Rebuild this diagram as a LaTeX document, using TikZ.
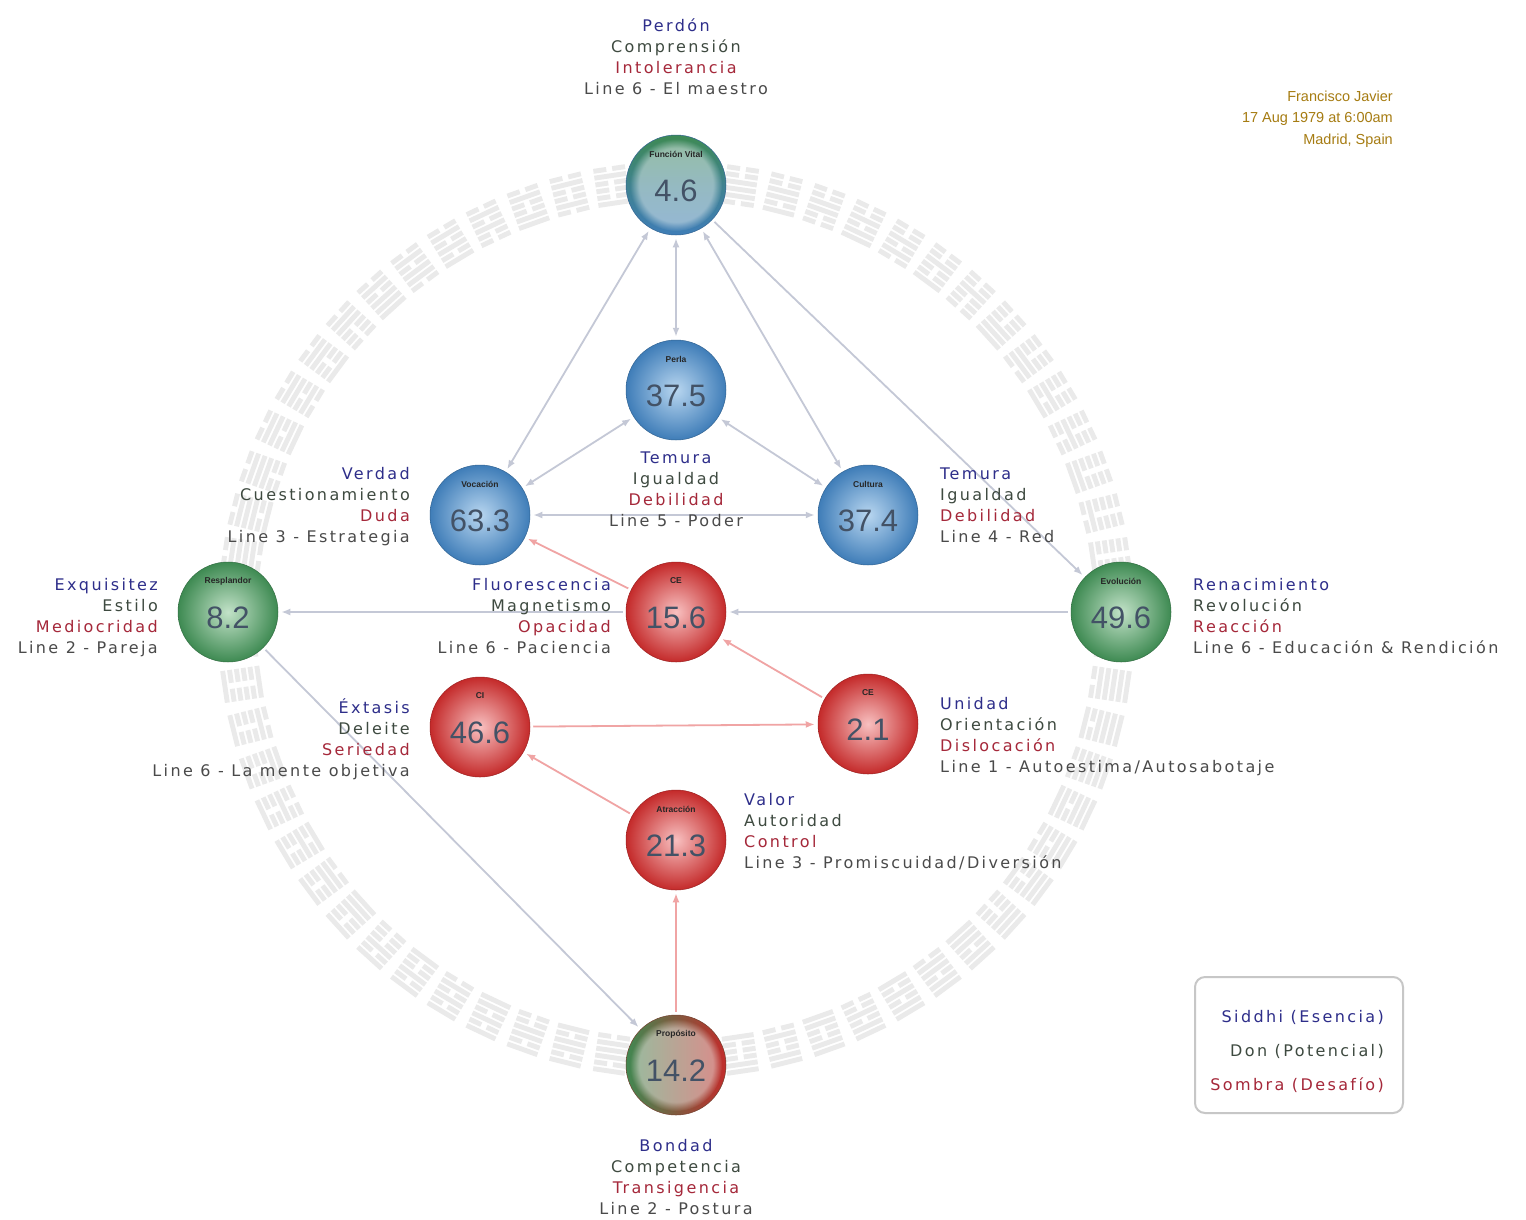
\documentclass[tikz,border=0pt]{standalone}
\usepackage{fontspec}
\setmainfont{DejaVu Sans}[LetterSpace=15]
\newfontfamily\numfont{Liberation Sans}
\newfontfamily\smallfont{Liberation Sans}
\usetikzlibrary{arrows.meta,fadings}
\definecolor{sidc}{HTML}{2E2E8A}
\definecolor{donc}{HTML}{3E4A40}
\definecolor{somc}{HTML}{A5283A}
\definecolor{linc}{HTML}{4A4A4A}
\definecolor{gedge}{HTML}{C4C8D6}
\definecolor{pedge}{HTML}{F0A4A4}
\definecolor{blueL}{HTML}{B8D6F0}
\definecolor{blueD}{HTML}{3F7DB8}
\definecolor{greenL}{HTML}{C2E2C8}
\definecolor{greenD}{HTML}{3E8A52}
\definecolor{redL}{HTML}{F8C0C0}
\definecolor{redD}{HTML}{C42A2A}
\definecolor{hexc}{HTML}{EAEAEA}
\definecolor{authc}{HTML}{A67C12}
\definecolor{numc}{HTML}{435266}
\tikzset{
  ball/.style={circle, minimum size=100pt, inner sep=0pt},
  blueball/.style={ball, inner color=blueL, outer color=blueD, draw=blueD!80!black, line width=0.5pt},
  greenball/.style={ball, inner color=greenL, outer color=greenD, draw=greenD!80!black, line width=0.5pt},
  redball/.style={ball, inner color=redL, outer color=redD, draw=redD!80!black, line width=0.5pt},
  fvball/.style={ball, draw=blueD!80!black, line width=0.5pt, path picture={
      \shade[top color=greenD, bottom color=blueD, middle color=blueD!60!greenD]
        ([shift={(-52,-52)}]path picture bounding box.center) rectangle ([shift={(52,52)}]path picture bounding box.center);
      \fill[white, fill opacity=0.45, path fading=circle with fuzzy edge 20 percent]
        (path picture bounding box.center) circle (46);}},
  prball/.style={ball, draw=redD!60!greenD!80!black, line width=0.5pt, path picture={
      \shade[left color=greenD, right color=redD]
        ([shift={(-52,-52)}]path picture bounding box.center) rectangle ([shift={(52,52)}]path picture bounding box.center);
      \fill[white, fill opacity=0.45, path fading=circle with fuzzy edge 20 percent]
        (path picture bounding box.center) circle (46);}},
  ttl/.style={inner sep=0pt, font=\smallfont\bfseries\fontsize{8.5}{9}\selectfont, text=black!85},
  num/.style={inner sep=0pt, font=\numfont\fontsize{31}{31}\selectfont, text=numc},
  lab/.style={inner sep=0pt, font=\fontsize{16}{18}\selectfont},
  gedge/.style={draw=gedge, line width=1.8pt, shorten >=3pt, shorten <=3pt},
  pedge/.style={draw=pedge, line width=1.8pt, shorten >=3pt, shorten <=3pt},
  tip/.style={-{Latex[length=9pt,width=7pt]}},
  tips/.style={{Latex[length=9pt,width=7pt]}-{Latex[length=9pt,width=7pt]}},
  auth/.style={inner sep=0pt, anchor=base east, font=\smallfont\fontsize{14.5}{16}\selectfont, text=authc},
  leg/.style={inner sep=0pt, anchor=base east, font=\fontsize{16}{18}\selectfont}
}
\newcommand\gklab[8]{%
  \node[lab, text=sidc, anchor=#2] (#1a) at (#3,#4) {#5};
  \node[lab, text=donc, anchor=#2] (#1b) at (#3,#4+21.3) {#6};
  \node[lab, text=somc, anchor=#2] (#1c) at (#3,#4+42.6) {#7};
  \node[lab, text=linc, anchor=#2] (#1d) at (#3,#4+63.9) {#8};}
\newcommand\gkball[6]{%
  \node[#4] (#1) at (#2,#3) {};
  \node[ttl] (#1t) at (#2,#3-31) {#5};
  \node[num] (#1n) at (#2,#3+6) {#6};}
\begin{document}
\begin{tikzpicture}[x=1pt,y=-1pt]
\useasboundingbox (0,0) rectangle (1526,1219);
\fill[white] (0,0) rectangle (1526,1219);
% hexagram ring
\foreach \i in {0,...,63}{
  \pgfmathsetmacro\ang{\i*5.625+2.8}
  \begin{scope}[shift={(676,620)}, rotate=\ang]
    \foreach \j in {0,...,5}{
      \pgfmathtruncatemacro\hb{mod(floor(\i/pow(2,\j)),2)}
      \pgfmathsetmacro\hr{419+\j*6.9}
      \ifnum\hb=1
        \fill[hexc] (\hr,-16) rectangle (\hr+4.9,16);
      \else
        \fill[hexc] (\hr,-16) rectangle (\hr+4.9,-3);
        \fill[hexc] (\hr,3) rectangle (\hr+4.9,16);
      \fi
    }
  \end{scope}
}
% balls
\gkball{fv}{676}{185}{fvball}{Función Vital}{4.6}
\gkball{pe}{676}{390}{blueball}{Perla}{37.5}
\gkball{vo}{480}{515}{blueball}{Vocación}{63.3}
\gkball{cu}{868}{515}{blueball}{Cultura}{37.4}
\gkball{ev}{1121}{612}{greenball}{Evolución}{49.6}
\gkball{re}{228}{612}{greenball}{Resplandor}{8.2}
\gkball{sq}{676}{612}{redball}{CE}{15.6}
\gkball{iq}{480}{727}{redball}{CI}{46.6}
\gkball{eq}{868}{724}{redball}{CE}{2.1}
\gkball{at}{676}{840}{redball}{Atracción}{21.3}
\gkball{pr}{676}{1065}{prball}{Propósito}{14.2}
% edges
\draw[gedge,tips] (fv) -- (pe);
\draw[gedge,tips] (fv) -- (vo);
\draw[gedge,tips] (fv) -- (cu);
\draw[gedge,tip] (fv) -- (ev);
\draw[gedge,tips] (pe) -- (vo);
\draw[gedge,tips] (pe) -- (cu);
\draw[gedge,tips] (vo) -- (cu);
\draw[gedge,tip] (ev) -- (sq);
\draw[gedge,tip] (sq) -- (re);
\draw[gedge,tip] (re) -- (pr);
\draw[pedge,tip] (sq) -- (vo);
\draw[pedge,tip] (eq) -- (sq);
\draw[pedge,tip] (iq) -- (eq);
\draw[pedge,tip] (at) -- (iq);
\draw[pedge,tip] (pr) -- (at);
% labels
\gklab{l1}{base}{676}{31}{Perdón}{Comprensión}{Intolerancia}{Line 6 - El maestro}
\gklab{l2}{base}{676}{463}{Temura}{Igualdad}{Debilidad}{Line 5 - Poder}
\gklab{l3}{base east}{410}{479}{Verdad}{Cuestionamiento}{Duda}{Line 3 - Estrategia}
\gklab{l4}{base west}{940}{479}{Temura}{Igualdad}{Debilidad}{Line 4 - Red}
\gklab{l5}{base east}{158}{590}{Exquisitez}{Estilo}{Mediocridad}{Line 2 - Pareja}
\gklab{l6}{base east}{611}{590}{Fluorescencia}{Magnetismo}{Opacidad}{Line 6 - Paciencia}
\gklab{l7}{base west}{1193}{590}{Renacimiento}{Revolución}{Reacción}{Line 6 - Educación \& Rendición}
\gklab{l8}{base west}{940}{709}{Unidad}{Orientación}{Dislocación}{Line 1 - Autoestima/Autosabotaje}
\gklab{l9}{base east}{410}{713}{Éxtasis}{Deleite}{Seriedad}{Line 6 - La mente objetiva}
\gklab{l10}{base west}{744}{805}{Valor}{Autoridad}{Control}{Line 3 - Promiscuidad/Diversión}
\gklab{l11}{base}{676}{1151}{Bondad}{Competencia}{Transigencia}{Line 2 - Postura}
% author
\node[auth] (a1) at (1393,101) {Francisco Javier};
\node[auth] (a2) at (1393,122) {17 Aug 1979 at 6:00am};
\node[auth] (a3) at (1393,144) {Madrid, Spain};
% legend
\draw[draw=black!22, line width=2pt, rounded corners=10pt] (1195,977) rectangle (1403,1113);
\node[leg, text=sidc] (g1) at (1384,1022) {Siddhi (Esencia)};
\node[leg, text=donc] (g2) at (1384,1056) {Don (Potencial)};
\node[leg, text=somc] (g3) at (1384,1090) {Sombra (Desafío)};
\end{tikzpicture}
\end{document}
